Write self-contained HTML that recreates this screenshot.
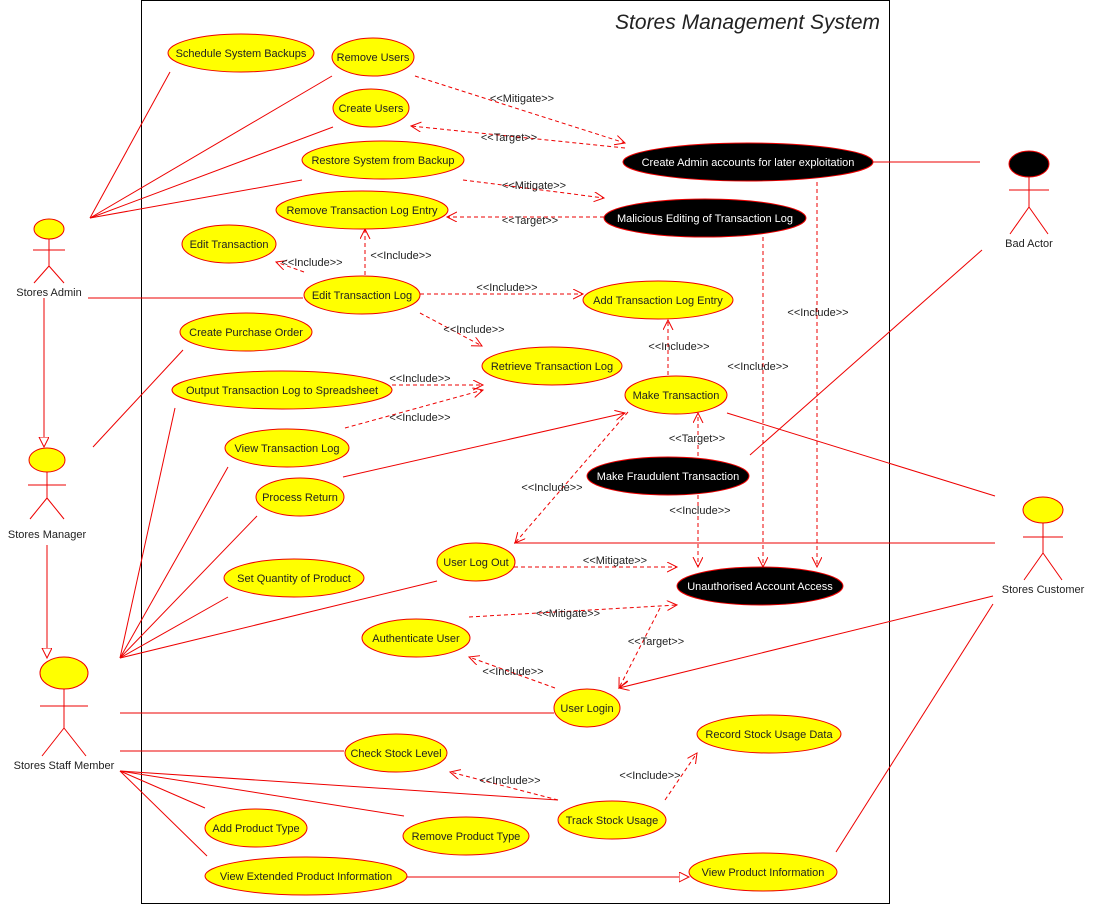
<!DOCTYPE html>
<html><head><meta charset="utf-8"><style>
html,body{margin:0;padding:0;background:#fff;}
svg{display:block;}
text{font-family:"Liberation Sans","DejaVu Sans",sans-serif;font-size:11px;fill:#222;}
.u{fill:#ff0;stroke:#e00;stroke-width:1;}
.b{fill:#000;stroke:#e00;stroke-width:1;}
.l{stroke:#e00;stroke-width:1;fill:none;}
.d{stroke:#e00;stroke-width:1;fill:none;stroke-dasharray:4,3;}
.w{fill:#fff;}
</style></head><body>
<svg width="1094" height="904" viewBox="0 0 1094 904" xmlns="http://www.w3.org/2000/svg">
<defs>
<marker id="a" markerWidth="12" markerHeight="12" refX="10" refY="5" orient="auto" markerUnits="userSpaceOnUse"><path d="M0,0 L10,5 L0,10" fill="none" stroke="#e00"/></marker>
<marker id="t" markerWidth="14" markerHeight="14" refX="10" refY="5" orient="auto" markerUnits="userSpaceOnUse"><path d="M0,0 L10,5 L0,10 Z" fill="#fff" stroke="#e00"/></marker>
</defs>
<rect x="141.5" y="0.5" width="748" height="903" fill="none" stroke="#000"/>
<text x="880" y="29" text-anchor="end" style="font-size:21px;font-style:italic">Stores Management System</text>

<g class="l">
<line x1="90" y1="218" x2="170" y2="72"/><line x1="90" y1="218" x2="332" y2="76"/><line x1="90" y1="218" x2="333" y2="127"/><line x1="90" y1="218" x2="302" y2="180"/>
<line x1="88" y1="298" x2="303" y2="298"/>
<line x1="44" y1="298" x2="44" y2="447" marker-end="url(#t)"/>
<line x1="47" y1="545" x2="47" y2="658" marker-end="url(#t)"/>
<line x1="93" y1="447" x2="183" y2="350"/>
<line x1="120" y1="658" x2="175" y2="408"/><line x1="120" y1="658" x2="228" y2="467"/><line x1="120" y1="658" x2="257" y2="516"/><line x1="120" y1="658" x2="228" y2="597"/><line x1="120" y1="658" x2="437" y2="581"/>
<line x1="120" y1="713" x2="554" y2="713"/>
<line x1="120" y1="751" x2="344" y2="751"/>
<line x1="120" y1="771" x2="558" y2="800"/><line x1="120" y1="771" x2="404" y2="816"/><line x1="120" y1="771" x2="205" y2="808"/><line x1="120" y1="771" x2="207" y2="856"/>
<line x1="406" y1="877" x2="689" y2="877" marker-end="url(#t)"/>
<line x1="343" y1="477" x2="625" y2="413" marker-end="url(#a)"/>
<line x1="727" y1="413" x2="995" y2="496"/>
<line x1="982" y1="250" x2="750" y2="455"/>
<line x1="873" y1="162" x2="980" y2="162"/>
<line x1="995" y1="543" x2="514" y2="543"/>
<line x1="993" y1="596" x2="619" y2="688" marker-end="url(#a)"/>
<line x1="993" y1="604" x2="836" y2="852"/>
</g>
<g class="d">
<line x1="415" y1="76" x2="625" y2="143" marker-end="url(#a)"/>
<line x1="625" y1="148" x2="411" y2="126" marker-end="url(#a)"/>
<line x1="463" y1="180" x2="604" y2="198" marker-end="url(#a)"/>
<line x1="604" y1="217" x2="447" y2="217" marker-end="url(#a)"/>
<line x1="365" y1="275" x2="365" y2="229" marker-end="url(#a)"/>
<line x1="304" y1="272" x2="276" y2="262" marker-end="url(#a)"/>
<line x1="420" y1="294" x2="583" y2="294" marker-end="url(#a)"/>
<line x1="420" y1="313" x2="482" y2="346" marker-end="url(#a)"/>
<line x1="392" y1="385" x2="483" y2="385" marker-end="url(#a)"/>
<line x1="345" y1="428" x2="483" y2="390" marker-end="url(#a)"/>
<line x1="668" y1="375" x2="668" y2="320" marker-end="url(#a)"/>
<line x1="698" y1="456" x2="698" y2="413" marker-end="url(#a)"/>
<line x1="698" y1="495" x2="698" y2="567" marker-end="url(#a)"/>
<line x1="628" y1="412" x2="515" y2="543" marker-end="url(#a)"/>
<line x1="763" y1="237" x2="763" y2="567" marker-end="url(#a)"/>
<line x1="817" y1="182" x2="817" y2="567" marker-end="url(#a)"/>
<line x1="514" y1="567" x2="677" y2="567" marker-end="url(#a)"/>
<line x1="469" y1="617" x2="677" y2="605" marker-end="url(#a)"/>
<line x1="660" y1="608" x2="619" y2="688" marker-end="url(#a)"/>
<line x1="555" y1="688" x2="469" y2="657" marker-end="url(#a)"/>
<line x1="558" y1="800" x2="450" y2="772" marker-end="url(#a)"/>
<line x1="665" y1="800" x2="697" y2="753" marker-end="url(#a)"/>
</g>
<g text-anchor="middle">
<text x="522" y="102">&lt;&lt;Mitigate&gt;&gt;</text>
<text x="509" y="141">&lt;&lt;Target&gt;&gt;</text>
<text x="534" y="189">&lt;&lt;Mitigate&gt;&gt;</text>
<text x="530" y="224">&lt;&lt;Target&gt;&gt;</text>
<text x="401" y="259">&lt;&lt;Include&gt;&gt;</text>
<text x="312" y="266">&lt;&lt;Include&gt;&gt;</text>
<text x="507" y="291">&lt;&lt;Include&gt;&gt;</text>
<text x="474" y="333">&lt;&lt;Include&gt;&gt;</text>
<text x="420" y="382">&lt;&lt;Include&gt;&gt;</text>
<text x="420" y="421">&lt;&lt;Include&gt;&gt;</text>
<text x="679" y="350">&lt;&lt;Include&gt;&gt;</text>
<text x="697" y="442">&lt;&lt;Target&gt;&gt;</text>
<text x="700" y="514">&lt;&lt;Include&gt;&gt;</text>
<text x="552" y="491">&lt;&lt;Include&gt;&gt;</text>
<text x="758" y="370">&lt;&lt;Include&gt;&gt;</text>
<text x="818" y="316">&lt;&lt;Include&gt;&gt;</text>
<text x="615" y="564">&lt;&lt;Mitigate&gt;&gt;</text>
<text x="568" y="617">&lt;&lt;Mitigate&gt;&gt;</text>
<text x="656" y="645">&lt;&lt;Target&gt;&gt;</text>
<text x="513" y="675">&lt;&lt;Include&gt;&gt;</text>
<text x="510" y="784">&lt;&lt;Include&gt;&gt;</text>
<text x="650" y="779">&lt;&lt;Include&gt;&gt;</text>
</g>
<g text-anchor="middle">
<ellipse class="u" cx="241" cy="53" rx="73" ry="19"/><text x="241" y="57">Schedule System Backups</text>
<ellipse class="u" cx="373" cy="57" rx="41" ry="19"/><text x="373" y="61">Remove Users</text>
<ellipse class="u" cx="371" cy="108" rx="38" ry="19"/><text x="371" y="112">Create Users</text>
<ellipse class="u" cx="383" cy="160" rx="81" ry="19"/><text x="383" y="164">Restore System from Backup</text>
<ellipse class="u" cx="362" cy="210" rx="86" ry="19"/><text x="362" y="214">Remove Transaction Log Entry</text>
<ellipse class="u" cx="229" cy="244" rx="47" ry="19"/><text x="229" y="248">Edit Transaction</text>
<ellipse class="u" cx="362" cy="295" rx="58" ry="19"/><text x="362" y="299">Edit Transaction Log</text>
<ellipse class="u" cx="658" cy="300" rx="75" ry="19"/><text x="658" y="304">Add Transaction Log Entry</text>
<ellipse class="u" cx="246" cy="332" rx="66" ry="19"/><text x="246" y="336">Create Purchase Order</text>
<ellipse class="u" cx="552" cy="366" rx="70" ry="19"/><text x="552" y="370">Retrieve Transaction Log</text>
<ellipse class="u" cx="282" cy="390" rx="110" ry="19"/><text x="282" y="394">Output Transaction Log to Spreadsheet</text>
<ellipse class="u" cx="676" cy="395" rx="51" ry="19"/><text x="676" y="399">Make Transaction</text>
<ellipse class="u" cx="287" cy="448" rx="62" ry="19"/><text x="287" y="452">View Transaction Log</text>
<ellipse class="u" cx="300" cy="497" rx="44" ry="19"/><text x="300" y="501">Process Return</text>
<ellipse class="u" cx="294" cy="578" rx="70" ry="19"/><text x="294" y="582">Set Quantity of Product</text>
<ellipse class="u" cx="476" cy="562" rx="39" ry="19"/><text x="476" y="566">User Log Out</text>
<ellipse class="u" cx="416" cy="638" rx="54" ry="19"/><text x="416" y="642">Authenticate User</text>
<ellipse class="u" cx="587" cy="708" rx="33" ry="19"/><text x="587" y="712">User Login</text>
<ellipse class="u" cx="769" cy="734" rx="72" ry="19"/><text x="769" y="738">Record Stock Usage Data</text>
<ellipse class="u" cx="396" cy="753" rx="51" ry="19"/><text x="396" y="757">Check Stock Level</text>
<ellipse class="u" cx="612" cy="820" rx="54" ry="19"/><text x="612" y="824">Track Stock Usage</text>
<ellipse class="u" cx="256" cy="828" rx="51" ry="19"/><text x="256" y="832">Add Product Type</text>
<ellipse class="u" cx="466" cy="836" rx="63" ry="19"/><text x="466" y="840">Remove Product Type</text>
<ellipse class="u" cx="306" cy="876" rx="101" ry="19"/><text x="306" y="880">View Extended Product Information</text>
<ellipse class="u" cx="763" cy="872" rx="74" ry="19"/><text x="763" y="876">View Product Information</text>
<ellipse class="b" cx="748" cy="162" rx="125" ry="19"/><text class="w" x="748" y="166">Create Admin accounts for later exploitation</text>
<ellipse class="b" cx="705" cy="218" rx="101" ry="19"/><text class="w" x="705" y="222">Malicious Editing of Transaction Log</text>
<ellipse class="b" cx="668" cy="476" rx="81" ry="19"/><text class="w" x="668" y="480">Make Fraudulent Transaction</text>
<ellipse class="b" cx="760" cy="586" rx="83" ry="19"/><text class="w" x="760" y="590">Unauthorised Account Access</text>
</g>
<g class="l">
<ellipse class="u" cx="49" cy="229" rx="15" ry="10"/><line x1="49" y1="239" x2="49" y2="266"/><line x1="33" y1="250" x2="65" y2="250"/><line x1="49" y1="266" x2="34" y2="283"/><line x1="49" y1="266" x2="64" y2="283"/>
<ellipse class="u" cx="47" cy="460" rx="18" ry="12"/><line x1="47" y1="472" x2="47" y2="498"/><line x1="28" y1="485" x2="66" y2="485"/><line x1="47" y1="498" x2="30" y2="519"/><line x1="47" y1="498" x2="64" y2="519"/>
<ellipse class="u" cx="64" cy="673" rx="24" ry="16"/><line x1="64" y1="689" x2="64" y2="728"/><line x1="40" y1="706" x2="88" y2="706"/><line x1="64" y1="728" x2="42" y2="756"/><line x1="64" y1="728" x2="86" y2="756"/>
<ellipse class="b" cx="1029" cy="164" rx="20" ry="13"/><line x1="1029" y1="177" x2="1029" y2="207"/><line x1="1009" y1="190" x2="1049" y2="190"/><line x1="1029" y1="207" x2="1010" y2="234"/><line x1="1029" y1="207" x2="1048" y2="234"/>
<ellipse class="u" cx="1043" cy="510" rx="20" ry="13"/><line x1="1043" y1="523" x2="1043" y2="553"/><line x1="1023" y1="537" x2="1063" y2="537"/><line x1="1043" y1="553" x2="1024" y2="580"/><line x1="1043" y1="553" x2="1062" y2="580"/>
</g>
<g text-anchor="middle">
<text x="49" y="296">Stores Admin</text>
<text x="47" y="538">Stores Manager</text>
<text x="64" y="769">Stores Staff Member</text>
<text x="1029" y="247">Bad Actor</text>
<text x="1043" y="593">Stores Customer</text>
</g>
</svg>
</body></html>
